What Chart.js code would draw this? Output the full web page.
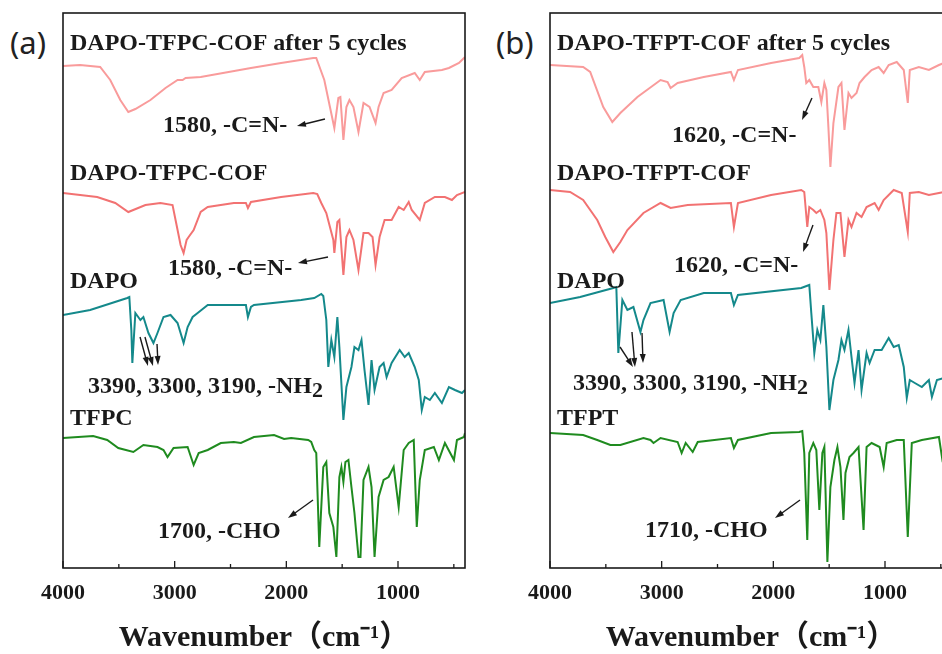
<!DOCTYPE html>
<html>
<head>
<meta charset="utf-8">
<script src="https://cdn.jsdelivr.net/npm/chart.js@4.4.0/dist/chart.umd.min.js"></script>
<style>
  html, body { margin: 0; padding: 0; background: #fff; overflow: hidden; }
  body { width: 942px; height: 654px; position: relative; }
  .panel { position: absolute; top: 0; width: 471px; height: 654px; }
  .tag { position: absolute; top: 21px; font: 31px "Noto Sans", sans-serif; color: #222; }
</style>
</head>
<body>
<div class="tag" style="left:10px">(a)</div>
<div class="tag" style="left:496px">(b)</div>
<div class="panel" style="left:0"><canvas id="graphCanvas-a" width="471" height="654"></canvas></div>
<div class="panel" style="left:487px"><canvas id="graphCanvas-b" width="471" height="654"></canvas></div>
<script>
// FTIR spectra, [wavenumber cm-1, transmittance a.u. (stacked with offsets)]
var cofCycledA = [[4000,502],[3847,503],[3667,501],[3577,488],[3487,468],[3415,456],[3352,459],[3217,468],[3082,480],[2974,488],[2929,488],[2902,490],[2767,491],[2317,500],[2047,505],[1759,510],[1732,510],[1660,488],[1570,440],[1534,470],[1516,471],[1489,428],[1462,461],[1435,468],[1399,461],[1354,436],[1309,465],[1255,461],[1201,445],[1174,461],[1129,475],[1057,478],[967,490],[850,495],[805,488],[760,496],[607,498],[544,500],[454,505],[400,511]];
var cofA = [[4000,375],[3694,371],[3532,365],[3415,356],[3262,363],[3127,365],[3019,363],[2983,343],[2947,323],[2920,315],[2893,328],[2875,331],[2830,338],[2767,356],[2704,361],[2470,365],[2362,365],[2344,360],[2317,366],[2047,371],[1759,375],[1723,374],[1687,365],[1642,355],[1579,328],[1570,315],[1543,346],[1525,348],[1489,293],[1462,331],[1435,338],[1399,328],[1354,298],[1309,335],[1264,335],[1228,331],[1201,303],[1165,331],[1120,348],[1057,348],[994,361],[949,358],[904,366],[877,358],[805,348],[760,365],[670,371],[580,371],[517,368],[472,373],[400,376]];
var dapoA = [[4000,253],[3757,258],[3424,270],[3406,271],[3388,238],[3379,205],[3352,255],[3307,248],[3280,251],[3235,235],[3190,225],[3154,235],[3100,251],[3037,253],[2974,245],[2920,225],[2884,241],[2839,251],[2794,255],[2704,263],[2470,263],[2362,263],[2344,251],[2317,261],[2290,263],[1867,268],[1750,270],[1687,274],[1669,272],[1642,248],[1624,201],[1597,228],[1570,211],[1543,251],[1525,221],[1489,148],[1462,181],[1417,201],[1390,221],[1354,218],[1327,228],[1300,198],[1264,163],[1237,208],[1210,178],[1165,201],[1129,205],[1102,191],[1057,205],[985,218],[940,211],[904,215],[850,201],[814,188],[787,158],[760,171],[715,168],[670,175],[607,165],[544,181],[490,178],[427,175],[400,178]];
var tfpc = [[4000,130],[3730,132],[3604,128],[3505,120],[3370,116],[3280,123],[3154,121],[3100,118],[3064,111],[3010,120],[2884,121],[2830,103],[2785,115],[2704,118],[2587,125],[2470,126],[2407,125],[2290,131],[2110,133],[2020,129],[1957,130],[1804,128],[1777,126],[1750,118],[1732,115],[1705,21],[1669,101],[1642,106],[1615,55],[1579,41],[1552,11],[1525,91],[1507,101],[1489,86],[1471,106],[1444,108],[1417,81],[1390,55],[1354,11],[1336,11],[1309,88],[1264,101],[1237,81],[1210,11],[1174,71],[1129,88],[1084,91],[1039,101],[994,61],[949,118],[904,125],[859,128],[832,41],[805,88],[760,118],[679,121],[634,108],[580,125],[499,108],[472,128],[409,131],[400,135]];

var cofCycledB = [[4000,503],[3703,501],[3640,496],[3523,461],[3442,446],[3370,455],[3217,471],[3010,488],[2947,486],[2920,480],[2857,485],[2623,491],[2380,496],[2353,488],[2317,498],[2020,505],[1768,510],[1741,513],[1723,501],[1705,485],[1678,488],[1642,481],[1597,481],[1570,466],[1543,485],[1525,478],[1507,441],[1489,401],[1462,445],[1417,481],[1390,485],[1363,438],[1327,475],[1300,470],[1255,475],[1228,485],[1183,491],[1120,498],[1057,501],[1012,495],[967,503],[895,506],[832,498],[796,465],[778,498],[697,501],[607,498],[517,503],[472,505],[400,507]];
var cofB = [[4000,378],[3820,376],[3703,368],[3577,348],[3505,331],[3433,316],[3370,326],[3307,338],[3163,355],[3010,365],[2920,360],[2767,363],[2380,365],[2353,341],[2317,365],[2020,373],[1750,378],[1723,376],[1696,341],[1678,361],[1642,358],[1615,355],[1579,358],[1543,348],[1525,335],[1498,278],[1462,328],[1435,355],[1399,355],[1363,311],[1327,348],[1300,341],[1255,355],[1210,351],[1165,361],[1093,365],[1057,358],[1012,368],[922,378],[850,375],[796,336],[778,375],[697,376],[607,373],[517,375],[472,376],[400,376]];
var dapoB = [[4000,265],[3730,271],[3433,280],[3406,281],[3388,215],[3352,268],[3307,258],[3253,261],[3190,236],[3163,248],[3100,265],[2983,268],[2929,236],[2893,255],[2830,268],[2623,275],[2380,275],[2353,263],[2317,273],[1750,280],[1678,283],[1660,255],[1633,215],[1606,238],[1579,228],[1552,263],[1525,221],[1498,158],[1462,188],[1417,208],[1390,228],[1363,218],[1327,238],[1300,211],[1273,185],[1237,218],[1210,178],[1165,215],[1138,205],[1093,218],[1030,218],[967,230],[922,221],[877,223],[832,201],[805,170],[778,188],[733,185],[670,181],[607,188],[580,171],[535,188],[472,190],[400,192]];
var tfpt = [[4000,135],[3703,133],[3577,128],[3460,123],[3370,123],[3163,130],[3100,128],[3073,125],[3010,130],[2857,126],[2821,115],[2785,125],[2722,116],[2677,126],[2380,130],[2353,120],[2317,128],[2020,135],[1768,136],[1741,137],[1723,115],[1696,28],[1678,115],[1642,125],[1615,118],[1588,58],[1561,115],[1543,121],[1516,6],[1489,81],[1453,108],[1426,121],[1399,101],[1372,48],[1354,95],[1318,111],[1282,115],[1237,121],[1192,38],[1165,121],[1120,125],[1048,121],[1012,101],[985,125],[895,128],[832,128],[796,31],[760,125],[670,128],[517,131],[490,111],[472,121],[400,128]];

var majorTicks = [4000, 3000, 2000, 1000];
var minorTicks = [3500, 2500, 1500, 500];

var colCycled = '#F99B9B', colCof = '#F27272', colDapo = '#14898B', colTf = '#1F8B1F';
var serif = '"Liberation Serif", "Times New Roman", serif';

// text labels and arrows, anchored in data coordinates [wavenumber, value]
var notesA = {
  texts: [
    {t: 'DAPO-TFPC-COF after 5 cycles', at: [3937, 518]},
    {t: 'DAPO-TFPC-COF', at: [3937, 388]},
    {t: 'DAPO', at: [3937, 280]},
    {t: 'TFPC', at: [3937, 143]},
    {t: '1580, -C=N-', at: [3105, 436]},
    {t: '1580, -C=N-', at: [3060, 293]},
    {t: '3390, 3300, 3190, -NH', sub: '2', at: [3776, 175]},
    {t: '1700, -CHO', at: [3149, 30]}
  ],
  arrows: [
    [[1654, 449], [1905, 442]],
    [[1627, 311], [1896, 305]],
    [[3310, 231], [3239, 202]],
    [[3266, 231], [3194, 202]],
    [[3158, 224], [3149, 203]],
    [[1761, 68], [1985, 50]]
  ]
};
var notesB = {
  texts: [
    {t: 'DAPO-TFPT-COF after 5 cycles', at: [3937, 518]},
    {t: 'DAPO-TFPT-COF', at: [3937, 388]},
    {t: 'DAPO', at: [3937, 280]},
    {t: 'TFPT', at: [3937, 143]},
    {t: '1620, -C=N-', at: [2907, 426]},
    {t: '1620, -C=N-', at: [2890, 296]},
    {t: '3390, 3300, 3190, -NH', sub: '2', at: [3794, 178]},
    {t: '1710, -CHO', at: [3149, 31]}
  ],
  arrows: [
    [[1654, 470], [1743, 448]],
    [[1645, 343], [1734, 316]],
    [[3373, 221], [3257, 201]],
    [[3266, 236], [3239, 201]],
    [[3176, 235], [3167, 205]],
    [[1761, 68], [1985, 50]]
  ]
};

function toXY(pairs) {
  return pairs.map(function (p) { return {x: p[0], y: p[1]}; });
}

// frame, inward tick marks and the annotations
var framePlugin = {
  id: 'frame',
  afterDatasetsDraw: function (chart, args, opts) {
    var ctx = chart.ctx, a = chart.chartArea;
    var xs = chart.scales.x, ys = chart.scales.y;
    ctx.save();
    ctx.strokeStyle = '#1a1a1a';
    ctx.lineWidth = 1.6;
    ctx.strokeRect(a.left, a.top, a.right - a.left, a.bottom - a.top);
    ctx.lineWidth = 1.3;
    majorTicks.forEach(function (v) {
      var px = xs.getPixelForValue(v);
      ctx.beginPath(); ctx.moveTo(px, a.bottom); ctx.lineTo(px, a.bottom - 7); ctx.stroke();
    });
    minorTicks.forEach(function (v) {
      var px = xs.getPixelForValue(v);
      ctx.beginPath(); ctx.moveTo(px, a.bottom); ctx.lineTo(px, a.bottom - 4); ctx.stroke();
    });

    ctx.fillStyle = '#1a1a1a';
    ctx.textBaseline = 'alphabetic';
    ctx.textAlign = 'left';
    opts.notes.texts.forEach(function (n) {
      var px = xs.getPixelForValue(n.at[0]), py = ys.getPixelForValue(n.at[1]);
      ctx.font = 'bold 24px ' + serif;
      ctx.fillText(n.t, px, py);
      if (n.sub) {
        var w = ctx.measureText(n.t).width;
        ctx.font = 'bold 22px ' + serif;
        ctx.fillText(n.sub, px + w, py + 4);
      }
    });

    ctx.lineWidth = 1.4;
    opts.notes.arrows.forEach(function (ar) {
      var x0 = xs.getPixelForValue(ar[0][0]), y0 = ys.getPixelForValue(ar[0][1]);
      var x1 = xs.getPixelForValue(ar[1][0]), y1 = ys.getPixelForValue(ar[1][1]);
      var ang = Math.atan2(y1 - y0, x1 - x0);
      ctx.beginPath(); ctx.moveTo(x0, y0);
      ctx.lineTo(x1 - 6 * Math.cos(ang), y1 - 6 * Math.sin(ang)); ctx.stroke();
      ctx.beginPath();
      ctx.moveTo(x1, y1);
      ctx.lineTo(x1 - 9 * Math.cos(ang) + 3 * Math.sin(ang), y1 - 9 * Math.sin(ang) - 3 * Math.cos(ang));
      ctx.lineTo(x1 - 9 * Math.cos(ang) - 3 * Math.sin(ang), y1 - 9 * Math.sin(ang) + 3 * Math.cos(ang));
      ctx.closePath(); ctx.fill();
    });
    ctx.restore();
  }
};

function makeSpectrum(id, series, notes) {
  var datasets = series.map(function (s) {
    return {
      label: s.label,
      data: toXY(s.data),
      borderColor: s.color,
      borderWidth: 2,
      pointRadius: 0,
      tension: 0,
      fill: false
    };
  });
  return new Chart(document.getElementById(id), {
    type: 'line',
    data: {datasets: datasets},
    plugins: [framePlugin],
    options: {
      responsive: false,
      animation: false,
      layout: {padding: {left: 63, right: 6, top: 13, bottom: 0}},
      plugins: {legend: {display: false}, tooltip: {enabled: false}, frame: {notes: notes}},
      scales: {
        x: {
          type: 'linear',
          reverse: true,
          min: 400,
          max: 4000,
          grid: {display: false, drawTicks: false},
          border: {display: false},
          afterBuildTicks: function (scale) {
            scale.ticks = majorTicks.map(function (v) { return {value: v}; });
          },
          afterFit: function (scale) { scale.height = 86; },
          ticks: {
            color: '#1a1a1a',
            padding: 12,
            maxRotation: 0,
            font: {family: serif, size: 22, weight: 'bold'},
            callback: function (v) { return String(v); }
          },
          title: {
            display: true,
            text: 'Wavenumber（cm⁻¹）',
            color: '#1a1a1a',
            padding: {top: 0, bottom: 1},
            font: {family: '"Liberation Serif", "Noto Sans CJK SC", serif', size: 30, weight: 'bold', lineHeight: 1}
          }
        },
        y: {display: false, min: 0, max: 555}
      }
    }
  });
}

makeSpectrum('graphCanvas-a', [
  {label: 'DAPO-TFPC-COF after 5 cycles', data: cofCycledA, color: colCycled},
  {label: 'DAPO-TFPC-COF', data: cofA, color: colCof},
  {label: 'DAPO', data: dapoA, color: colDapo},
  {label: 'TFPC', data: tfpc, color: colTf}
], notesA);

makeSpectrum('graphCanvas-b', [
  {label: 'DAPO-TFPT-COF after 5 cycles', data: cofCycledB, color: colCycled},
  {label: 'DAPO-TFPT-COF', data: cofB, color: colCof},
  {label: 'DAPO', data: dapoB, color: colDapo},
  {label: 'TFPT', data: tfpt, color: colTf}
], notesB);
</script>
</body>
</html>
